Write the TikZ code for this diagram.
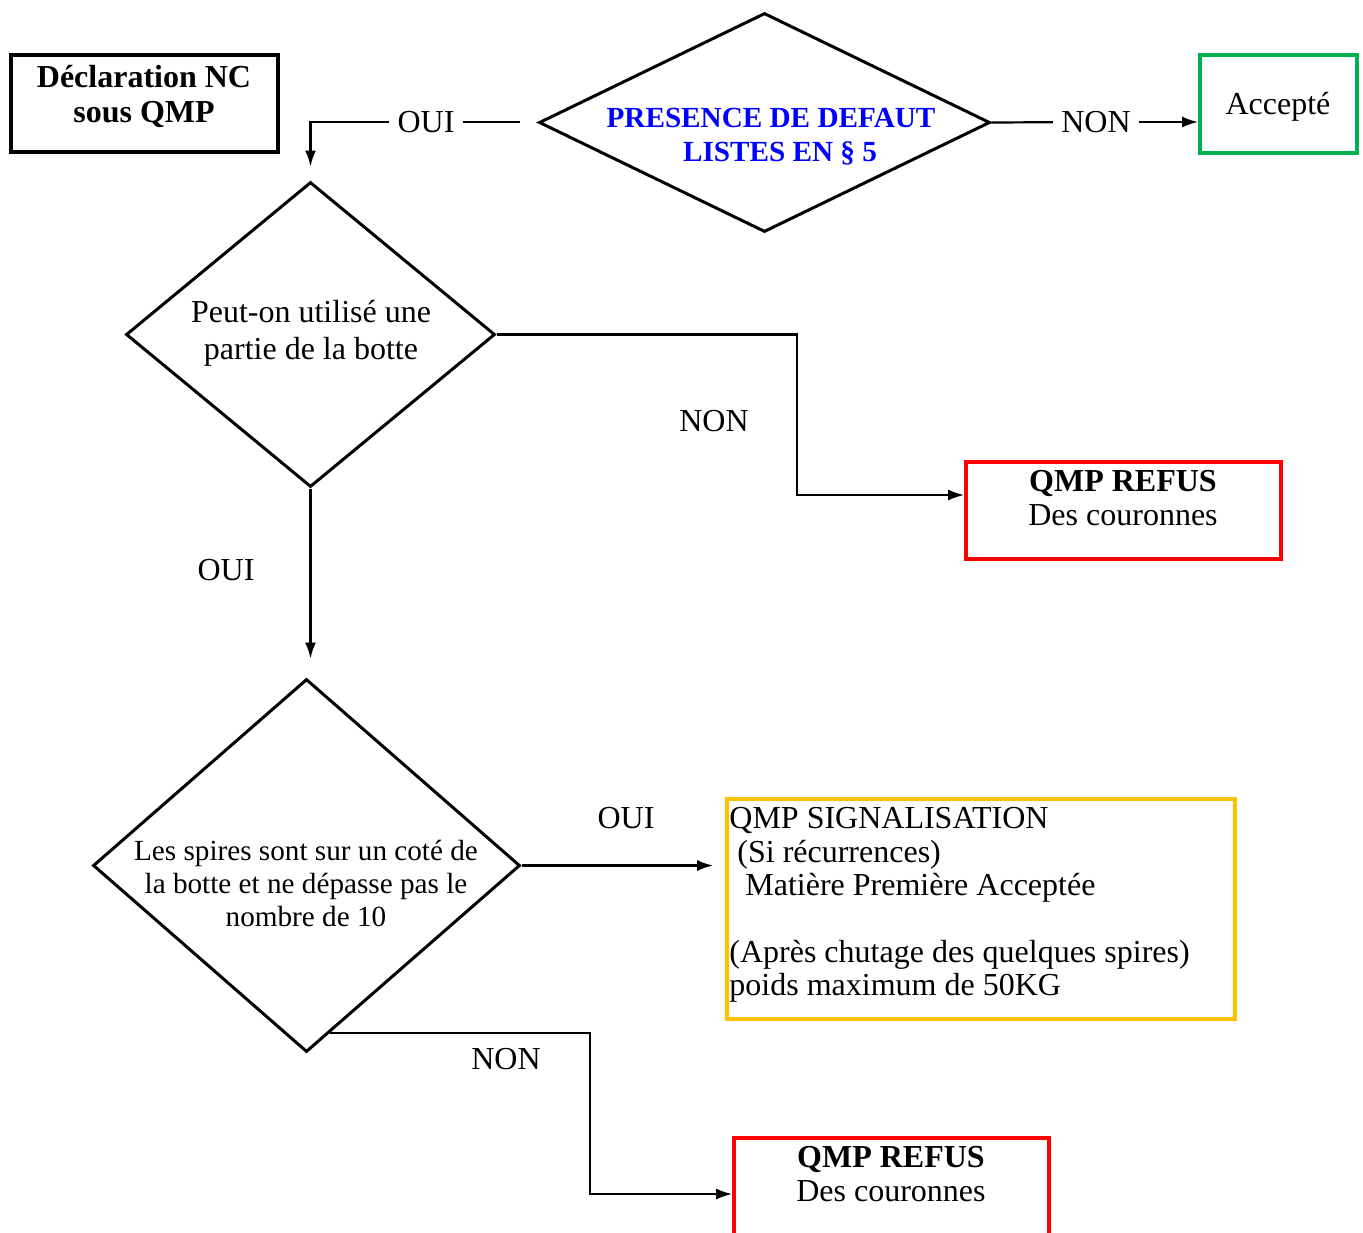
\documentclass[tikz,border=0pt]{standalone}
\usepackage{fontspec}
\setmainfont{Liberation Serif}
\usetikzlibrary{%
  arrows.meta,%
  shapes.geometric,% wg. diamond
  positioning%
}
\definecolor{vert}{RGB}{0,176,80}
\definecolor{jaune}{RGB}{255,192,0}

\begin{document}
\begin{tikzpicture}[x=0.5pt,y=-0.5pt]
 \useasboundingbox (0,0) rectangle (1363,1232);
 \begin{scope}[every node/.style={font=\fontsize{16pt}{17pt}\selectfont},
   boite/.style={draw,line width=1.8pt,inner sep=0pt},
   losange/.style={diamond,draw,line width=1.5pt,inner sep=0pt},
   fleche/.style={line width=1.1pt,-{Latex[length=8pt,width=5.5pt]}},
   trait/.style={line width=1.1pt},
   etiq/.style={inner xsep=4pt,inner ysep=2pt}]

   %Kasten
   \node[boite,minimum width=133.5pt,minimum height=48.5pt] (decl) at (144.5,103.5) {};
   \node[align=center,font=\fontsize{16pt}{17.5pt}\selectfont\bfseries] (decltxt) at (144,96) {D\'eclaration NC\\sous QMP};

   \node[boite,draw=vert,minimum width=78.5pt,minimum height=49pt] (acc) at (1278.5,104) {};
   \node (acctxt) at (1278,107) {Accept\'e};

   \node[boite,draw=red,minimum width=157.5pt,minimum height=48.5pt] (r1) at (1123.5,510.5) {};
   \node[align=center] (r1txt) at (1123,498) {\textbf{QMP REFUS}\\Des couronnes};

   \node[boite,draw=jaune,minimum width=254pt,minimum height=110pt] (gelb) at (981,909) {};
   \node[anchor=north west,align=left,inner sep=0pt,font=\fontsize{16pt}{16.7pt}\selectfont] (gelbtxt) at (729,807)
     {QMP SIGNALISATION\\
      \hspace*{4pt}(Si r\'ecurrences)\\
      \hspace*{8pt}Mati\`ere Premi\`ere Accept\'ee\\[16.7pt]
      (Apr\`es chutage des quelques spires)\\
      poids maximum de 50KG};

   \node[boite,draw=red,minimum width=157.5pt,minimum height=48.5pt] (r2) at (891.5,1186.5) {};
   \node[align=center] (r2txt) at (891,1174) {\textbf{QMP REFUS}\\Des couronnes};

   %Rauten
   \node[losange,minimum width=225.5pt,minimum height=109.5pt] (d1) at (764.5,122.5) {};
   \node[align=center,text=blue,font=\fontsize{14.6pt}{17pt}\selectfont\bfseries] (d1txt) at (771,137)
     {PRESENCE DE DEFAUT\\\hspace*{9pt}LISTES EN \S\ 5};

   \node[losange,minimum width=184.5pt,minimum height=152.5pt] (d2) at (310.5,334.5) {};
   \node[align=center,font=\fontsize{16pt}{18.5pt}\selectfont] (d2txt) at (311,333)
     {Peut-on utilis\'e une\\partie de la botte};

   \node[losange,minimum width=213.5pt,minimum height=186.5pt] (d3) at (306.5,865.5) {};
   \node[align=center,font=\fontsize{14.6pt}{16.5pt}\selectfont] (d3txt) at (306,883)
     {Les spires sont sur un cot\'e de\\la botte et ne d\'epasse pas le\\nombre de 10};

   %Beschriftung
   \node[etiq] (oui1) at (426,122) {OUI};
   \node[etiq] (non1) at (1096,122) {NON};
   \node[etiq] (non2) at (714,421) {NON};
   \node[etiq] (oui2) at (226,570) {OUI};
   \node[etiq] (oui3) at (626,818) {OUI};
   \node[etiq] (non3) at (506,1059) {NON};

   %Pfeile
   \coordinate (o1) at (520,122);
   \coordinate (k1) at (797,495);
   \coordinate (k2) at (590,1194);
   \draw[trait] (o1) -- (oui1);
   \draw[fleche,shorten >=7pt] (oui1) -| (d2.north);
   \draw[trait] (d1.east) -- (non1);
   \draw[fleche] (non1) -- (non1 -| acc.west);
   \draw[fleche] (d2.east) -| (k1) -- (k1 -| r1.west);
   \draw[fleche,shorten >=9.5pt] (d2.south) -- (d2.south |- d3.north);
   \draw[fleche,shorten >=6pt] (d3.east) -- (d3.east -| gelb.west);
   \draw[fleche] (d3.-82) -| (k2) -- (k2 -| r2.west);

 \end{scope}
\end{tikzpicture}
\end{document}
